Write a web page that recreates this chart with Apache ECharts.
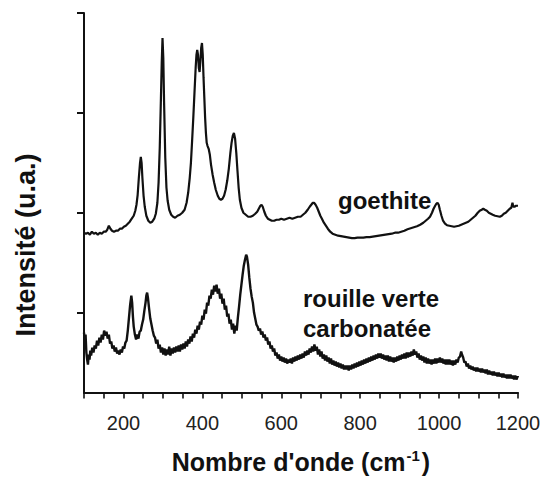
<!DOCTYPE html>
<html>
<head>
<meta charset="utf-8">
<script src="https://cdn.jsdelivr.net/npm/echarts@6/dist/echarts.min.js"></script>
<style>
html,body{margin:0;padding:0;background:#fff;}
#chart{width:546px;height:479px;}
</style>
</head>
<body>
<div id="chart"></div>
<script>
// Wavenumber tick labels (cm-1)
const majorTicks = [200, 400, 600, 800, 1000, 1200];
const intensityTicks = [0.8, 1.8, 2.8, 3.8];

// Goethite spectrum [wavenumber, intensity (offset, a.u.)]
const goethite = [
[100,1.60],[105,1.59],[110,1.60],[115,1.58],[120,1.61],[125,1.59],[130,1.60],[135,1.58],[140,1.60],[145,1.59],[150,1.61],[155,1.61],[159,1.63],[163,1.67],[167,1.64],[171,1.62],[176,1.61],[181,1.62],[186,1.62],[191,1.64],[196,1.64],[201,1.66],[206,1.67],[211,1.69],[216,1.71],[221,1.74],[226,1.77],[230,1.82],[233,1.88],[236,1.98],[239,2.15],[242,2.30],[244,2.36],[246,2.30],[248,2.15],[251,1.97],[254,1.86],[258,1.77],[263,1.72],[268,1.70],[273,1.71],[278,1.74],[282,1.79],[286,1.90],[289,2.10],[292,2.45],[295,2.95],[297,3.30],[299,3.55],[301,3.35],[303,2.90],[306,2.35],[309,2.05],[312,1.92],[316,1.83],[321,1.78],[326,1.76],[331,1.75],[337,1.77],[343,1.78],[349,1.80],[355,1.83],[360,1.90],[364,2.00],[368,2.15],[371,2.30],[374,2.52],[377,2.75],[380,3.00],[383,3.25],[385,3.38],[387,3.43],[389,3.38],[391,3.25],[393,3.21],[395,3.32],[397,3.45],[399,3.50],[401,3.38],[403,3.15],[405,2.95],[407,2.75],[409,2.60],[411,2.50],[413,2.47],[416,2.44],[419,2.38],[422,2.28],[426,2.18],[430,2.10],[434,2.03],[439,1.97],[443,1.94],[447,1.93],[451,1.94],[455,1.97],[459,2.03],[463,2.12],[467,2.24],[471,2.40],[474,2.50],[477,2.57],[480,2.60],[483,2.54],[486,2.40],[489,2.22],[492,2.05],[495,1.93],[499,1.85],[504,1.80],[510,1.78],[516,1.76],[522,1.76],[528,1.77],[534,1.79],[539,1.81],[543,1.84],[547,1.87],[550,1.88],[553,1.86],[557,1.81],[561,1.77],[566,1.74],[571,1.73],[576,1.72],[582,1.72],[588,1.73],[594,1.73],[600,1.74],[607,1.73],[614,1.74],[621,1.75],[628,1.74],[635,1.75],[642,1.76],[649,1.76],[655,1.78],[661,1.80],[667,1.83],[672,1.86],[676,1.88],[680,1.90],[683,1.90],[687,1.88],[691,1.85],[695,1.81],[699,1.77],[703,1.74],[708,1.70],[713,1.67],[718,1.64],[724,1.61],[730,1.59],[737,1.58],[744,1.57],[751,1.565],[758,1.56],[765,1.555],[772,1.55],[779,1.545],[786,1.545],[793,1.55],[800,1.55],[808,1.55],[816,1.555],[824,1.555],[832,1.56],[840,1.565],[848,1.57],[856,1.575],[864,1.58],[872,1.585],[880,1.59],[888,1.60],[896,1.60],[904,1.61],[912,1.62],[920,1.635],[928,1.645],[936,1.655],[944,1.665],[952,1.68],[960,1.70],[966,1.72],[972,1.74],[977,1.76],[982,1.80],[986,1.84],[990,1.87],[993,1.89],[996,1.90],[999,1.88],[1002,1.83],[1006,1.77],[1010,1.72],[1015,1.69],[1020,1.675],[1026,1.67],[1032,1.665],[1038,1.66],[1044,1.665],[1050,1.67],[1056,1.68],[1062,1.69],[1068,1.70],[1074,1.71],[1080,1.73],[1086,1.75],[1092,1.77],[1098,1.80],[1103,1.82],[1108,1.83],[1112,1.84],[1116,1.83],[1121,1.82],[1126,1.80],[1131,1.79],[1136,1.78],[1142,1.77],[1148,1.765],[1154,1.76],[1159,1.77],[1164,1.79],[1169,1.80],[1174,1.82],[1179,1.84],[1183,1.85],[1186,1.90],[1188,1.86],[1191,1.86],[1195,1.87],[1200,1.87]
];

// Carbonated green rust spectrum [wavenumber, intensity (a.u.)]
const rouilleVerte = [
[100,0.60],[102,0.52],[104,0.58],[106,0.40],[108,0.33],[110,0.28],[112,0.38],[114,0.33],[116,0.42],[118,0.37],[121,0.45],[124,0.40],[127,0.47],[130,0.44],[133,0.52],[136,0.47],[139,0.55],[142,0.50],[145,0.58],[148,0.53],[151,0.62],[154,0.57],[157,0.61],[160,0.54],[163,0.58],[166,0.49],[169,0.51],[172,0.44],[175,0.47],[178,0.41],[181,0.45],[184,0.39],[187,0.42],[190,0.38],[193,0.43],[196,0.40],[199,0.46],[202,0.44],[205,0.50],[208,0.52],[211,0.62],[214,0.75],[217,0.88],[220,0.97],[222,0.90],[224,0.76],[226,0.66],[229,0.58],[232,0.53],[235,0.58],[238,0.54],[241,0.61],[244,0.62],[247,0.68],[250,0.73],[253,0.82],[256,0.90],[258,0.97],[260,1.00],[262,0.95],[265,0.84],[268,0.74],[271,0.68],[274,0.62],[277,0.57],[280,0.55],[283,0.49],[286,0.53],[289,0.44],[292,0.48],[295,0.40],[298,0.45],[301,0.38],[304,0.44],[307,0.37],[310,0.43],[313,0.38],[316,0.46],[319,0.37],[322,0.44],[325,0.39],[328,0.45],[331,0.40],[334,0.46],[337,0.41],[340,0.47],[343,0.41],[346,0.48],[349,0.43],[352,0.49],[355,0.44],[358,0.51],[361,0.46],[364,0.53],[367,0.49],[370,0.56],[373,0.51],[376,0.59],[379,0.55],[382,0.63],[385,0.59],[388,0.67],[391,0.63],[394,0.71],[397,0.68],[400,0.77],[403,0.73],[406,0.83],[409,0.79],[412,0.90],[415,0.87],[418,0.97],[421,0.94],[424,1.03],[427,0.98],[430,1.07],[433,1.01],[436,1.08],[439,0.99],[442,1.04],[445,0.94],[448,0.99],[451,0.89],[454,0.94],[457,0.83],[460,0.87],[463,0.76],[466,0.79],[469,0.69],[472,0.73],[475,0.63],[478,0.69],[481,0.59],[484,0.67],[487,0.62],[490,0.75],[493,0.86],[496,0.98],[499,1.08],[502,1.18],[505,1.27],[508,1.33],[511,1.38],[513,1.36],[516,1.28],[519,1.15],[522,1.04],[525,0.96],[528,0.90],[531,0.80],[534,0.74],[537,0.68],[540,0.66],[543,0.62],[546,0.64],[549,0.58],[552,0.61],[555,0.55],[558,0.58],[561,0.52],[564,0.55],[567,0.48],[570,0.51],[573,0.44],[576,0.47],[579,0.41],[582,0.44],[585,0.37],[588,0.40],[591,0.34],[594,0.38],[597,0.32],[600,0.36],[603,0.31],[606,0.35],[609,0.30],[612,0.34],[615,0.29],[618,0.33],[621,0.30],[624,0.34],[627,0.29],[630,0.35],[633,0.31],[636,0.36],[639,0.32],[642,0.37],[645,0.33],[648,0.38],[651,0.34],[654,0.39],[657,0.35],[660,0.41],[663,0.37],[666,0.42],[669,0.38],[672,0.44],[675,0.40],[678,0.46],[681,0.41],[684,0.48],[687,0.42],[690,0.46],[693,0.38],[696,0.43],[699,0.36],[702,0.41],[705,0.34],[708,0.38],[711,0.32],[714,0.37],[717,0.31],[720,0.35],[723,0.29],[726,0.34],[729,0.28],[732,0.32],[735,0.27],[738,0.31],[741,0.26],[744,0.30],[747,0.25],[750,0.29],[753,0.24],[756,0.28],[759,0.23],[762,0.27],[765,0.23],[768,0.27],[771,0.22],[774,0.27],[777,0.23],[780,0.28],[783,0.24],[786,0.29],[789,0.25],[792,0.30],[795,0.26],[798,0.31],[801,0.27],[804,0.32],[807,0.28],[810,0.33],[813,0.29],[816,0.34],[819,0.30],[822,0.35],[825,0.31],[828,0.36],[831,0.32],[834,0.37],[837,0.33],[840,0.38],[843,0.34],[846,0.39],[849,0.35],[852,0.39],[855,0.34],[858,0.38],[861,0.33],[864,0.37],[867,0.32],[870,0.37],[873,0.31],[876,0.36],[879,0.31],[882,0.35],[885,0.30],[888,0.35],[891,0.31],[894,0.36],[897,0.32],[900,0.37],[903,0.33],[906,0.38],[909,0.34],[912,0.39],[915,0.34],[918,0.40],[921,0.35],[924,0.40],[927,0.36],[930,0.41],[933,0.37],[936,0.43],[939,0.38],[942,0.41],[945,0.35],[948,0.39],[951,0.33],[954,0.37],[957,0.32],[960,0.36],[963,0.30],[966,0.35],[969,0.29],[972,0.34],[975,0.29],[978,0.33],[981,0.28],[984,0.33],[987,0.29],[990,0.34],[993,0.29],[996,0.34],[999,0.30],[1002,0.35],[1005,0.30],[1008,0.34],[1011,0.29],[1014,0.33],[1017,0.28],[1020,0.33],[1023,0.28],[1026,0.33],[1029,0.28],[1032,0.32],[1035,0.27],[1038,0.32],[1041,0.28],[1044,0.33],[1047,0.30],[1050,0.35],[1053,0.36],[1056,0.41],[1058,0.38],[1061,0.35],[1064,0.30],[1067,0.31],[1070,0.26],[1073,0.29],[1076,0.24],[1079,0.27],[1082,0.23],[1085,0.26],[1088,0.22],[1091,0.25],[1094,0.21],[1097,0.25],[1100,0.21],[1103,0.24],[1106,0.20],[1109,0.24],[1112,0.20],[1115,0.23],[1118,0.19],[1121,0.23],[1124,0.18],[1127,0.22],[1130,0.18],[1133,0.21],[1136,0.17],[1139,0.21],[1142,0.17],[1145,0.20],[1148,0.16],[1151,0.20],[1154,0.16],[1157,0.19],[1160,0.15],[1163,0.19],[1166,0.15],[1169,0.18],[1172,0.14],[1175,0.18],[1178,0.14],[1181,0.18],[1184,0.14],[1187,0.17],[1190,0.13],[1193,0.17],[1196,0.13],[1199,0.16],[1200,0.15]
];

const seriesNames = ['goethite', 'rouille verte', 'carbonatée'];

const chart = echarts.init(document.getElementById('chart'), null, {renderer: 'svg'});
const FONT = '"Liberation Sans", Arial, sans-serif';
chart.setOption({
  animation: false,
  backgroundColor: '#ffffff',
  grid: {left: 84, right: 28, top: 13, bottom: 86},
  xAxis: {
    type: 'value', min: 100, max: 1200, interval: 50, z: 10,
    axisLine: {show: true, onZero: false, lineStyle: {color: '#111', width: 2}},
    axisTick: {show: true, length: 6, lineStyle: {color: '#111', width: 1.6}},
    axisLabel: {
      show: true, margin: 20, fontSize: 20, color: '#222', fontFamily: FONT,
      formatter: function (v) { return majorTicks.indexOf(v) >= 0 ? String(v) : ''; }
    },
    splitLine: {show: false},
    name: "Nombre d'onde (cm{sup|-1}{p|)}",
    nameLocation: 'middle', nameGap: 55,
    nameTextStyle: {
      fontSize: 25, fontWeight: 'bold', color: '#111', fontFamily: FONT,
      rich: {
        sup: {fontSize: 15, fontWeight: 'bold', color: '#111', fontFamily: FONT, verticalAlign: 'bottom', padding: [0, 2, 13, 1]},
        p: {fontSize: 25, fontWeight: 'bold', color: '#111', fontFamily: FONT}
      }
    }
  },
  yAxis: {
    type: 'value', min: 0, max: 3.8, z: 10,
    axisLine: {show: true, onZero: false, lineStyle: {color: '#111', width: 2}},
    axisTick: {show: true, customValues: intensityTicks, length: 7, lineStyle: {color: '#111', width: 2}},
    axisLabel: {show: false},
    splitLine: {show: false}
  },
  graphic: [
    {type: 'text', x: 26, y: 245, rotation: Math.PI / 2,
     style: {text: 'Intensité (u.a.)', font: 'bold 27px ' + FONT, fill: '#111', textAlign: 'center', textVerticalAlign: 'middle'}},
    {type: 'text', x: 338, y: 200,
     style: {text: seriesNames[0], font: 'bold 24px ' + FONT, fill: '#111', textAlign: 'left', textVerticalAlign: 'middle'}},
    {type: 'text', x: 303, y: 298,
     style: {text: seriesNames[1], font: 'bold 24px ' + FONT, fill: '#111', textAlign: 'left', textVerticalAlign: 'middle'}},
    {type: 'text', x: 303, y: 328,
     style: {text: seriesNames[2], font: 'bold 24px ' + FONT, fill: '#111', textAlign: 'left', textVerticalAlign: 'middle'}}
  ],
  series: [{
    name: 'goethite', type: 'line', data: goethite,
    showSymbol: false, symbol: 'none', smooth: false,
    lineStyle: {color: '#111', width: 2.2}
  }, {
    name: 'rouille verte carbonatée', type: 'line', data: rouilleVerte,
    showSymbol: false, symbol: 'none', smooth: false,
    lineStyle: {color: '#111', width: 2.4}
  }]
});
</script>
</body>
</html>
